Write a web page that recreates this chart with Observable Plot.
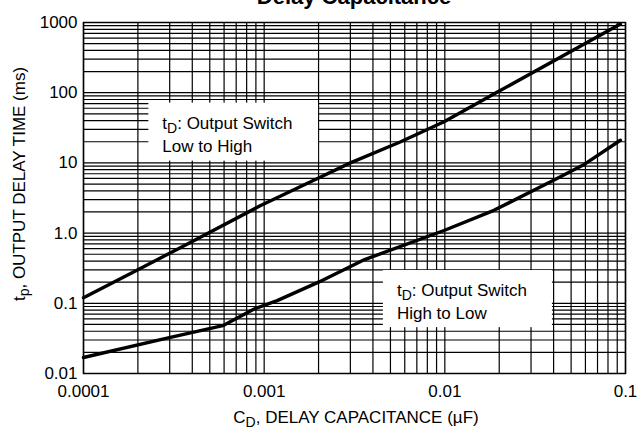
<!DOCTYPE html>
<html><head><meta charset="utf-8">
<script src="https://cdn.jsdelivr.net/npm/d3@7"></script>
<script src="https://cdn.jsdelivr.net/npm/@observablehq/plot@0.6"></script>
<style>body{margin:0;background:#fff;} svg{display:block;overflow:visible}</style>
</head><body><div id="chart"></div>
<script>
// Data
const lowToHighC = [0.0001, 0.0002, 0.0004, 0.00095, 0.002, 0.003, 0.0057, 0.0099, 0.019, 0.0937];
const lowToHighT = [0.12, 0.30, 0.76, 2.45, 6.1, 10, 20, 38.5, 98, 950];
const highToLowC = [0.0001, 0.00029, 0.00059, 0.00088, 0.00118, 0.002, 0.0036, 0.0099, 0.0187, 0.04, 0.0594, 0.0937];
const highToLowT = [0.0169, 0.032, 0.048, 0.083, 0.109, 0.2, 0.42, 1.09, 2.11, 5.66, 9.6, 21];

const xDomain = [0.0001, 0.1];
const yDomain = [0.01, 1000];
const xTickValues = [0.0001, 0.001, 0.01, 0.1];
const xTickLabels = ["0.0001", "0.001", "0.01", "0.1"];
const yTickValues = [0.01, 0.1, 1, 10, 100, 1000];
const yTickLabels = ["0.01", "0.1", "1.0", "10", "100", "1000"];

const titleText = "Delay Capacitance";
const noteLines = [["Output Switch", "Low to High"], ["Output Switch", "High to Low"]];
// note boxes in data units
const noteX1 = [0.00023, 0.00457];
const noteX2 = [0.002, 0.0394];
const noteY1 = [10.6, 0.045];
const noteY2 = [71, 0.293];

const lowToHigh = lowToHighC.map((c, i) => ({c, t: lowToHighT[i]}));
const highToLow = highToLowC.map((c, i) => ({c, t: highToLowT[i]}));
const notes = noteX1.map((x1, i) => ({x1, x2: noteX2[i], y1: noteY1[i], y2: noteY2[i]}));
const xGrid = d3.scaleLog().domain(xDomain).ticks();
const yGrid = d3.scaleLog().domain(yDomain).ticks();

const FONT = "'Liberation Sans', Arial, Helvetica, sans-serif";

const plot = Plot.plot({
  width: 637, height: 437,
  marginTop: 22, marginRight: 12, marginBottom: 64, marginLeft: 83,
  style: {fontFamily: FONT, fontSize: "17px", background: "#fff", color: "#000"},
  x: {type: "log", domain: xDomain},
  y: {type: "log", domain: yDomain},
  marks: [
    Plot.ruleX(xGrid, {stroke: "#000", strokeWidth: 1.2}),
    Plot.ruleY(yGrid, {stroke: "#000", strokeWidth: 1.2}),
    Plot.rect(notes, {x1: "x1", x2: "x2", y1: "y1", y2: "y2", fill: "#fff"}),
    Plot.frame({stroke: "#000", strokeWidth: 1.5}),
    Plot.line(lowToHigh, {x: "c", y: "t", stroke: "#000", strokeWidth: 3.4}),
    Plot.line(highToLow, {x: "c", y: "t", stroke: "#000", strokeWidth: 3.4}),
    Plot.axisX({ticks: xTickValues, tickFormat: d => xTickLabels[xTickValues.indexOf(d)], tickSize: 0, tickPadding: 11, label: null, fontSize: 17}),
    Plot.axisY({ticks: yTickValues, tickFormat: d => yTickLabels[yTickValues.indexOf(d)], tickSize: 0, tickPadding: 6, label: null, fontSize: 17})
  ]
});
document.getElementById("chart").appendChild(plot);

const svg = d3.select(plot);
const sx = plot.scale("x"), sy = plot.scale("y");

// title
svg.append("text").attr("x", 354).attr("y", 4).attr("text-anchor", "middle")
  .attr("font-family", FONT).attr("font-size", 22).attr("font-weight", "bold").attr("fill", "#000")
  .text(titleText);

// notes
notes.forEach((n, i) => {
  const left = sx.apply(n.x1), top = sy.apply(n.y2);
  const t1 = svg.append("text").attr("x", left + 14).attr("y", top + 26).attr("text-anchor", "start")
    .attr("font-family", FONT).attr("font-size", 17).attr("fill", "#000");
  t1.append("tspan").text("t");
  t1.append("tspan").attr("dy", 4).attr("font-size", 14).text("D");
  t1.append("tspan").attr("dy", -4).text(": " + noteLines[i][0]);
  svg.append("text").attr("x", left + 14).attr("y", top + 49).attr("text-anchor", "start")
    .attr("font-family", FONT).attr("font-size", 17).attr("fill", "#000")
    .text(noteLines[i][1]);
});

// y axis label
const yl = svg.append("text").attr("transform", "translate(25,184) rotate(-90)").attr("text-anchor", "middle")
  .attr("font-family", FONT).attr("font-size", 17).attr("fill", "#000");
yl.append("tspan").text("t");
yl.append("tspan").attr("dy", 4).attr("font-size", 14).text("p");
yl.append("tspan").attr("dy", -4).text(", OUTPUT DELAY TIME (ms)");

// x axis label
const xl = svg.append("text").attr("x", 356).attr("y", 423).attr("text-anchor", "middle")
  .attr("font-family", FONT).attr("font-size", 17).attr("fill", "#000");
xl.append("tspan").text("C");
xl.append("tspan").attr("dy", 4).attr("font-size", 14).text("D");
xl.append("tspan").attr("dy", -4).text(", DELAY CAPACITANCE (\u00B5F)");
</script>
</body></html>
